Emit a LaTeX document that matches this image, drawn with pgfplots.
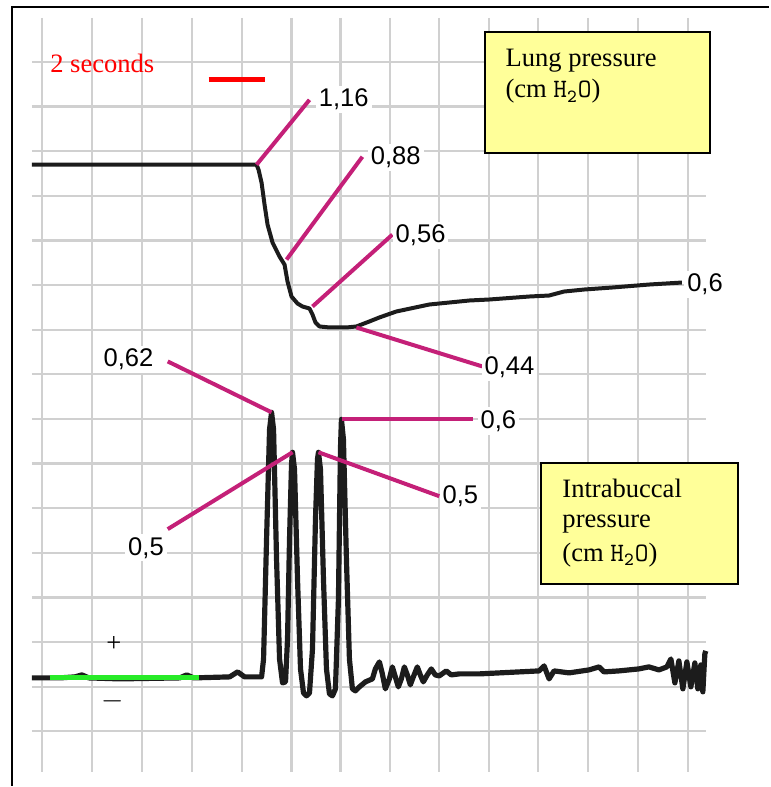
\documentclass[border=0pt]{standalone}
\usepackage{fontspec}
\setmainfont{Liberation Serif}
\setsansfont{Liberation Sans}
\usepackage{pgfplots}
\pgfplotsset{compat=1.18}

\definecolor{annot}{RGB}{196,32,120}
\definecolor{boxyellow}{RGB}{255,255,153}
\definecolor{trace}{RGB}{28,28,28}
\definecolor{gridc}{RGB}{208,208,208}
\definecolor{mygreen}{RGB}{40,235,40}

\newcommand{\num}[1]{\fontsize{12.8}{15}\sffamily #1}
\newcommand{\serif}{\fontsize{13.3}{16}\rmfamily}

\begin{document}
\begin{tikzpicture}
\begin{axis}[
    x=0.5pt, y=0.5pt, y dir=reverse,
    xmin=0, xmax=770, ymin=0, ymax=787,
    hide axis, clip=false, scale only axis,
]
% page and frame
\path (axis cs:0,0) rectangle (axis cs:770,787);
\draw[black, line width=1.3pt] (axis cs:12,787) -- (axis cs:12,7) -- (axis cs:770,7);

% chart paper grid
\pgfplotsinvokeforeach{42,92,142,192,242,292,341,391,440,490,539,589,639,689}{
  \draw[gridc, line width=1.1pt] (axis cs:#1,18) -- (axis cs:#1,773);
}
\pgfplotsinvokeforeach{62,106.7,151.4,196.1,240.8,285.5,330.2,374.9,419.6,464.3,509,553.7,598.4,643.1,687.8,732.5}{
  \draw[gridc, line width=1.1pt] (axis cs:32,#1) -- (axis cs:707,#1);
}

% lung pressure trace
\addplot[trace, line width=2pt, line join=round] coordinates {
 (32,165) (257,165) (259,170) (262,183) (265,205) (268,225) (273,243)
 (280,257) (285,265) (288,282) (292,297) (298,304) (303,307) (310,309)
 (313,315) (316,323) (320,327) (330,328) (347,328) (357,327) (370,322)
 (380,318) (397,312) (430,305) (470,301) (490,300) (530,297) (550,296)
 (565,292) (585,290) (613,288) (650,285) (683,283)
};

% intrabuccal pressure trace
\addplot[trace, line width=2.6pt, line join=round] coordinates {
 (32,679) (60,679) (75,678) (82,676) (89,679) (120,680) (180,679) (187,676)
 (194,679) (230,678) (238,673) (245,678) (262,678) (264,660) (267,540)
 (270,430) (272,413) (274,430) (277,560) (280,660) (283,684) (286,683)
 (288,640) (290,540) (292,465) (293,453) (295,470) (298,580) (301,670)
 (304,694) (307,697) (310,694) (313,650) (316,520) (318,460) (319,453)
 (321,470) (324,580) (327,670) (330,695) (333,697) (336,690) (339,600)
 (341,450) (342,420) (344,440) (347,560) (350,660) (353,690) (356,692)
 (360,688) (366,683) (373,680) (376,670) (380,663) (383,675) (386,690)
 (390,680) (393,668) (396,678) (399,688) (402,680) (405,668) (408,676)
 (411,686) (414,678) (418,668) (421,676) (424,683) (428,676) (432,670)
 (436,676) (440,677) (447,672) (452,676) (460,675) (480,675) (500,674)
 (520,673) (540,672) (545,667) (550,680) (555,672) (570,674) (590,671)
 (600,668) (605,673) (620,672) (640,670) (650,668) (660,671) (668,668)
 (672,660) (676,684) (680,662) (684,690) (688,663) (692,688) (696,664)
 (699,690) (702,666) (704,693) (706,655) (707,652)
};

% green baseline segment
\addplot[mygreen, line width=2.6pt] coordinates {(50,679) (199,679)};

% time scale
\node[anchor=base west, text=red, inner sep=0pt] at (axis cs:50,73) {\serif 2 seconds};
\draw[red, line width=2.6pt] (axis cs:209,80) -- (axis cs:265,80);

% annotation lines
\begin{scope}[annot, line width=2pt]
\draw (axis cs:257,165) -- (axis cs:310,100);
\draw (axis cs:287,260) -- (axis cs:363,157);
\draw (axis cs:313,307) -- (axis cs:393,235);
\draw (axis cs:357,328) -- (axis cs:483,367);
\draw (axis cs:272,413) -- (axis cs:168,362);
\draw (axis cs:343,420) -- (axis cs:474,420);
\draw (axis cs:293,453) -- (axis cs:168,530);
\draw (axis cs:319,453) -- (axis cs:440,497);
\end{scope}

% value labels
\begin{scope}[every node/.style={fill=white, inner sep=1.5pt, anchor=base west}]
\node at (axis cs:316,107) {\num{1,16}};
\node at (axis cs:368,165) {\num{0,88}};
\node at (axis cs:393,243) {\num{0,56}};
\node at (axis cs:482,375) {\num{0,44}};
\node at (axis cs:685,292) {\num{0,6}};
\node[anchor=base east] at (axis cs:157,367) {\num{0,62}};
\node at (axis cs:478,429) {\num{0,6}};
\node at (axis cs:440,504) {\num{0,5}};
\node at (axis cs:125,556) {\num{0,5}};
\end{scope}

% polarity signs
\node[inner sep=0pt] at (axis cs:114,645) {\serif +};
\node[inner sep=0pt] at (axis cs:113,702) {\serif $-$};

% legend boxes
\draw[black, line width=0.8pt, fill=boxyellow] (axis cs:486,32) rectangle (axis cs:711,153);
\node[anchor=base west, inner sep=0pt] at (axis cs:506,67) {\serif Lung pressure};
\node[anchor=base west, inner sep=0pt] at (axis cs:506,98) {\serif (cm \texttt{H\textsubscript{2}O})};

\draw[black, line width=0.8pt, fill=boxyellow] (axis cs:542,464) rectangle (axis cs:739,585);
\node[anchor=base west, inner sep=0pt] at (axis cs:563,498) {\serif Intrabuccal};
\node[anchor=base west, inner sep=0pt] at (axis cs:563,528) {\serif pressure};
\node[anchor=base west, inner sep=0pt] at (axis cs:563,562) {\serif (cm \texttt{H\textsubscript{2}O})};
\end{axis}
\end{tikzpicture}
\end{document}
